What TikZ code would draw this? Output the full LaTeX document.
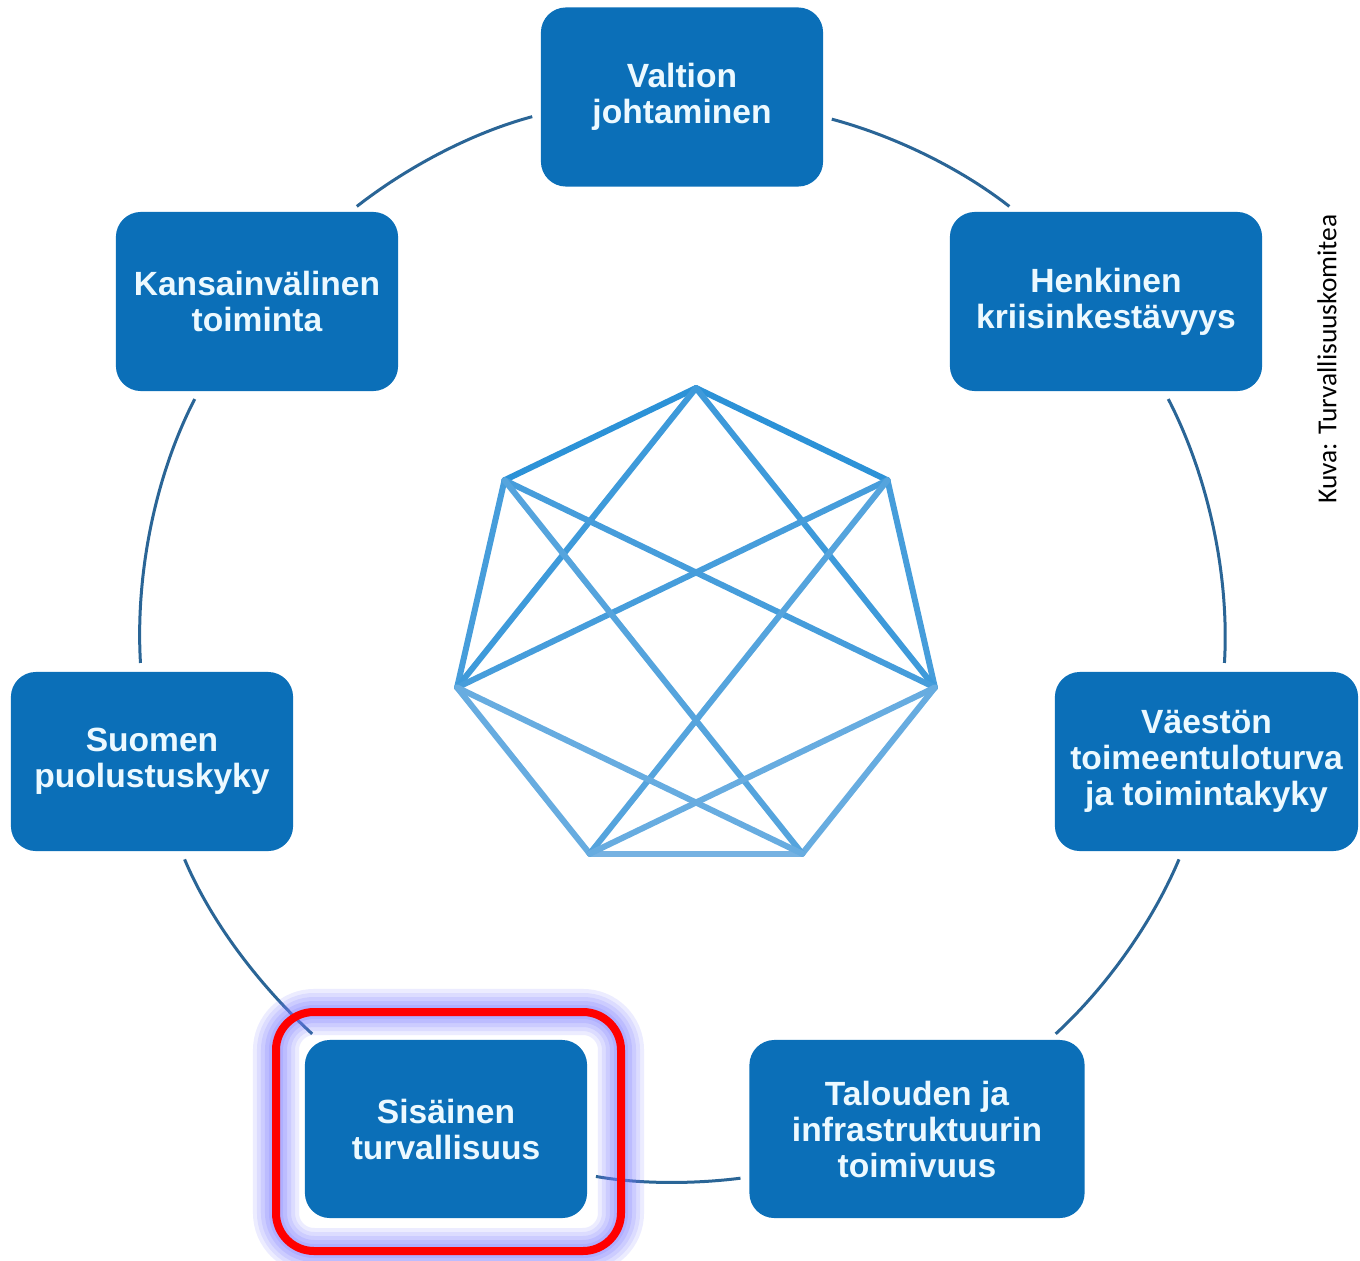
\documentclass[tikz,border=0pt]{standalone}
\usepackage{fontspec}
\setmainfont{Liberation Sans}
\newfontfamily\creditfont{Carlito}
\definecolor{boxblue}{RGB}{11,111,184}
\definecolor{boxtext}{RGB}{236,249,255}
\definecolor{ringblue}{RGB}{42,101,150}
\definecolor{webdark}{RGB}{36,142,214}
\definecolor{weblight}{RGB}{118,178,226}
\definecolor{glow}{RGB}{120,120,255}

\begin{document}
\begin{tikzpicture}[x=0.01cm,y=0.01cm]
\tikzset{pillar/.style = {shape=rectangle,rounded corners=0.25cm,fill=boxblue,text=boxtext,
  font=\bfseries\fontsize{9.55}{10.24}\selectfont,align=center,inner sep=0pt,outer sep=0pt,
  minimum width=2.82cm,minimum height=1.79cm}}
\tikzset{ring/.style = {draw=ringblue,line width=0.03cm,looseness=0.86,shorten <=0.09cm,shorten >=0.09cm}}
\tikzset{link/.style = {line width=0.06cm,line cap=round,line join=round}}
\tikzset{frame/.style = {draw=red,line width=0.08cm,rounded corners=0.38cm,
  preaction={draw=glow,opacity=0.14,line width=0.46cm},
  preaction={draw=glow,opacity=0.14,line width=0.38cm},
  preaction={draw=glow,opacity=0.16,line width=0.30cm},
  preaction={draw=glow,opacity=0.18,line width=0.22cm},
  preaction={draw=glow,opacity=0.20,line width=0.14cm}}}
\tikzset{credit/.style = {rotate=90,inner sep=0pt,text=black,font=\creditfont\fontsize{7.8}{9}\selectfont}}
\useasboundingbox (0,0) rectangle (1360,-1260);
% the seven boxes
\node[pillar] (valtion) at (682,-97) {Valtion\\johtaminen};
\node[pillar,minimum width=3.12cm] (henkinen) at (1106,-301.5) {Henkinen\\kriisinkestävyys};
\node[pillar,minimum width=3.03cm] (vaeston) at (1206.5,-761.5) {Väestön\\toimeentuloturva\\ja toimintakyky};
\node[pillar,minimum width=3.35cm,minimum height=1.78cm] (talous) at (917,-1129) {Talouden ja\\infrastruktuurin\\toimivuus};
\node[pillar,minimum height=1.78cm] (sisainen) at (446,-1129) {Sisäinen\\turvallisuus};
\node[pillar] (puolustus) at (152,-761.5) {Suomen\\puolustuskyky};
\node[pillar] (kansa) at (257,-301.5) {Kansainvälinen\\toiminta};
% ring between the boxes
\draw[ring] (valtion.187.5) to[out=195,in=38] (kansa.44.4);
\draw[ring] (valtion.352.5) to[out=-15,in=142] (henkinen.135.3);
\draw[ring] (henkinen.303.2) to[out=-62.7,in=86.6] (vaeston.79);
\draw[ring] (vaeston.-105) to[out=-112.9,in=42.6] (talous.34);
\draw[ring] (talous.196.6) to[out=-172.8,in=-10.1] (sisainen.342.1);
\draw[ring] (sisainen.145.9) to[out=137.5,in=-67.1] (puolustus.288.3);
\draw[ring] (puolustus.97.7) to[out=93.4,in=242.7] (kansa.237.4);
% heptagon in the middle
\coordinate (h0) at (696,-388);
\coordinate (h1) at (887.5,-480.2);
\coordinate (h2) at (934.9,-687.5);
\coordinate (h3) at (802.3,-853.7);
\coordinate (h4) at (589.7,-853.7);
\coordinate (h5) at (457.1,-687.5);
\coordinate (h6) at (504.5,-480.2);
\path[link]
(h0) edge[webdark!90!weblight] (h1)
(h1) edge[webdark!58!weblight] (h2)
(h2) edge[webdark!18!weblight] (h3)
(h3) edge[weblight] (h4)
(h4) edge[webdark!18!weblight] (h5)
(h5) edge[webdark!58!weblight] (h6)
(h6) edge[webdark!90!weblight] (h0)
(h0) edge[webdark!68!weblight] (h2)
(h0) edge[webdark!68!weblight] (h5)
(h6) edge[webdark!58!weblight] (h2)
(h1) edge[webdark!58!weblight] (h5)
(h6) edge[webdark!40!weblight] (h3)
(h1) edge[webdark!40!weblight] (h4)
(h5) edge[webdark!18!weblight] (h3)
(h2) edge[webdark!18!weblight] (h4);
% red highlight
\draw[frame] ([shift={(-170,117)}]sisainen.center) rectangle ([shift={(175,-122)}]sisainen.center);
\node[credit] (kuva) at (1327,-359) {Kuva: Turvallisuuskomitea};
\end{tikzpicture}
\end{document}
